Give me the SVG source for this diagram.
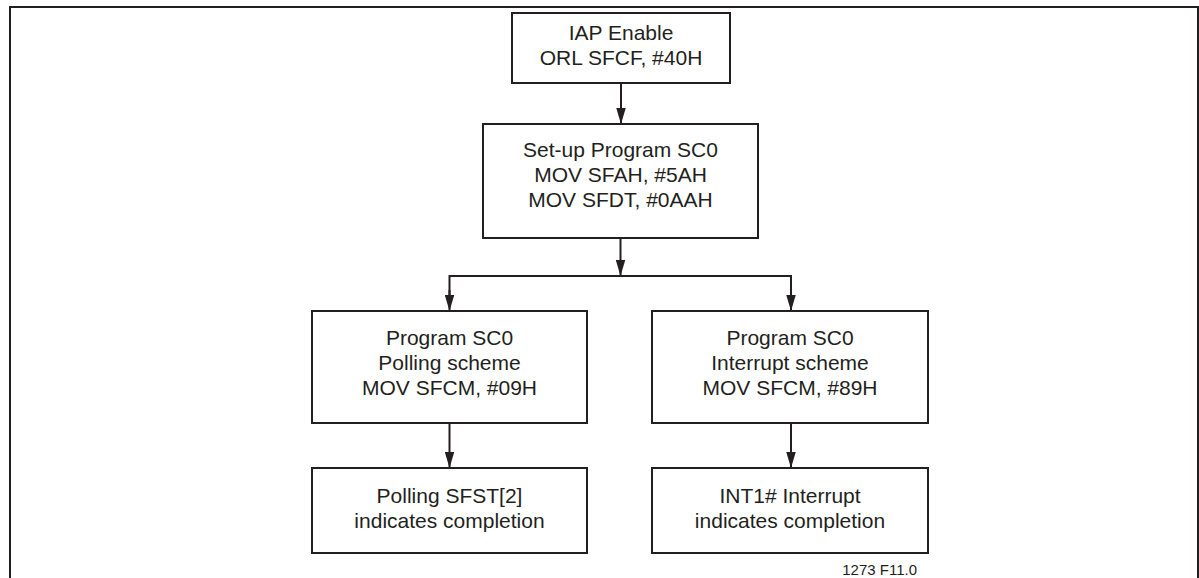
<svg xmlns="http://www.w3.org/2000/svg" width="1199" height="578" viewBox="0 0 1199 578">
  <style>
    .box { fill: #ffffff; stroke: #231f20; stroke-width: 2; }
    .txt { font-family: "Liberation Sans", Arial, sans-serif; font-size: 21px; fill: #231f20; text-anchor: middle; }
    .conn { fill: none; stroke: #231f20; stroke-width: 2; }
    .frame { fill: none; stroke: #231f20; stroke-width: 2; }
    .fig { font-family: "Liberation Sans", Arial, sans-serif; font-size: 15px; fill: #231f20; text-anchor: end; }
  </style>
  <defs>
    <marker id="arrow" markerUnits="userSpaceOnUse" markerWidth="16" markerHeight="10" refX="15" refY="4.75" orient="auto" viewBox="0 0 16 9.5">
      <path d="M0,0 L16,4.75 L0,9.5 Z" fill="#231f20"/>
    </marker>
  </defs>
  <rect x="0" y="0" width="1199" height="578" fill="#ffffff"/>
  <g id="frame">
    <path class="frame" d="M10,578 V7 H1198 V578"/>
  </g>
  <g id="connectors">
    <line class="conn" x1="621" y1="84" x2="621" y2="123" marker-end="url(#arrow)"/>
    <line class="conn" x1="620.5" y1="239" x2="620.5" y2="275" marker-end="url(#arrow)"/>
    <path class="conn" d="M449.5,300 V276 H791 V300"/>
    <line class="conn" x1="449.5" y1="290" x2="449.5" y2="310" marker-end="url(#arrow)"/>
    <line class="conn" x1="791" y1="290" x2="791" y2="310" marker-end="url(#arrow)"/>
    <line class="conn" x1="449.5" y1="424" x2="449.5" y2="467" marker-end="url(#arrow)"/>
    <line class="conn" x1="791" y1="424" x2="791" y2="467" marker-end="url(#arrow)"/>
  </g>
  <g id="iap-enable">
    <rect class="box" x="512" y="13" width="218" height="70"/>
    <text class="txt" x="621" y="40">IAP Enable</text>
    <text class="txt" x="621" y="65">ORL SFCF, #40H</text>
  </g>
  <g id="setup-program">
    <rect class="box" x="483" y="124" width="275" height="114"/>
    <text class="txt" x="620.5" y="157">Set-up Program SC0</text>
    <text class="txt" x="620.5" y="182">MOV SFAH, #5AH</text>
    <text class="txt" x="620.5" y="207">MOV SFDT, #0AAH</text>
  </g>
  <g id="polling-scheme">
    <rect class="box" x="312" y="311" width="275" height="112"/>
    <text class="txt" x="449.5" y="345">Program SC0</text>
    <text class="txt" x="449.5" y="370">Polling scheme</text>
    <text class="txt" x="449.5" y="395">MOV SFCM, #09H</text>
  </g>
  <g id="interrupt-scheme">
    <rect class="box" x="652" y="311" width="276" height="112"/>
    <text class="txt" x="790" y="345">Program SC0</text>
    <text class="txt" x="790" y="370">Interrupt scheme</text>
    <text class="txt" x="790" y="395">MOV SFCM, #89H</text>
  </g>
  <g id="polling-complete">
    <rect class="box" x="312" y="468" width="275" height="85"/>
    <text class="txt" x="449.5" y="503">Polling SFST[2]</text>
    <text class="txt" x="449.5" y="528">indicates completion</text>
  </g>
  <g id="interrupt-complete">
    <rect class="box" x="652" y="468" width="276" height="85"/>
    <text class="txt" x="790" y="503">INT1# Interrupt</text>
    <text class="txt" x="790" y="528">indicates completion</text>
  </g>
  <g id="figure-label">
    <text class="fig" x="917" y="575">1273 F11.0</text>
  </g>
</svg>
